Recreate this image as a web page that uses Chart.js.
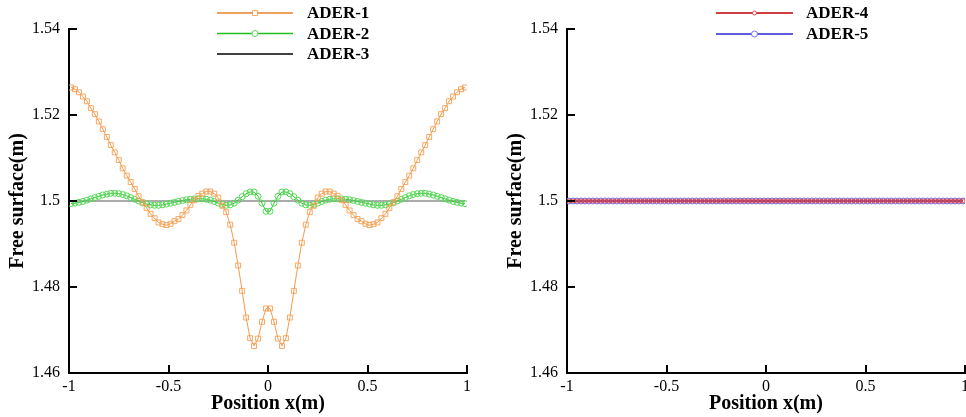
<!DOCTYPE html>
<html>
<head>
<meta charset="utf-8">
<script src="https://cdn.jsdelivr.net/npm/chart.js@4.4.0/dist/chart.umd.min.js"></script>
<style>
  html, body { margin: 0; padding: 0; background: #fff; overflow: hidden; }
  #wrap { position: relative; width: 966px; height: 417px; overflow: hidden; }
  .box { position: absolute; top: 0; height: 417px; }
  #left { left: 0; width: 483px; }
  #right { left: 483px; width: 490px; }
</style>
</head>
<body>
<div id="wrap">
  <div class="box" id="left"><canvas id="chartLeft" width="483" height="417"></canvas></div>
  <div class="box" id="right"><canvas id="chartRight" width="490" height="417"></canvas></div>
</div>
<script>
// cell centres, -0.99 .. 0.99
const positions = [
  -0.99, -0.97, -0.95, -0.93, -0.91, -0.89, -0.87, -0.85, -0.83, -0.81,
  -0.79, -0.77, -0.75, -0.73, -0.71, -0.69, -0.67, -0.65, -0.63, -0.61,
  -0.59, -0.57, -0.55, -0.53, -0.51, -0.49, -0.47, -0.45, -0.43, -0.41,
  -0.39, -0.37, -0.35, -0.33, -0.31, -0.29, -0.27, -0.25, -0.23, -0.21,
  -0.19, -0.17, -0.15, -0.13, -0.11, -0.09, -0.07, -0.05, -0.03, -0.01,
  0.01, 0.03, 0.05, 0.07, 0.09, 0.11, 0.13, 0.15, 0.17, 0.19,
  0.21, 0.23, 0.25, 0.27, 0.29, 0.31, 0.33, 0.35, 0.37, 0.39,
  0.41, 0.43, 0.45, 0.47, 0.49, 0.51, 0.53, 0.55, 0.57, 0.59,
  0.61, 0.63, 0.65, 0.67, 0.69, 0.71, 0.73, 0.75, 0.77, 0.79,
  0.81, 0.83, 0.85, 0.87, 0.89, 0.91, 0.93, 0.95, 0.97, 0.99
];

const ader1 = [
  1.5264, 1.5260, 1.5253, 1.5243, 1.5232, 1.5216, 1.5202, 1.5185, 1.5167, 1.5149,
  1.5130, 1.5113, 1.5095, 1.5076, 1.5059, 1.5044, 1.5028, 1.5011, 1.4997, 1.4984,
  1.4970, 1.4960, 1.4950, 1.4946, 1.4944, 1.4947, 1.4953, 1.4958, 1.4967, 1.4978,
  1.4991, 1.5002, 1.5012, 1.5017, 1.5022, 1.5022, 1.5017, 1.5008, 1.4989, 1.4974,
  1.4945, 1.4903, 1.4850, 1.4791, 1.4729, 1.4681, 1.4663, 1.4680, 1.4719, 1.4750,
  1.4750, 1.4719, 1.4680, 1.4663, 1.4681, 1.4729, 1.4791, 1.4850, 1.4903, 1.4945,
  1.4974, 1.4989, 1.5008, 1.5017, 1.5022, 1.5022, 1.5017, 1.5012, 1.5002, 1.4991,
  1.4978, 1.4967, 1.4958, 1.4953, 1.4947, 1.4944, 1.4946, 1.4950, 1.4960, 1.4970,
  1.4984, 1.4997, 1.5011, 1.5028, 1.5044, 1.5059, 1.5076, 1.5095, 1.5113, 1.5130,
  1.5149, 1.5167, 1.5185, 1.5202, 1.5216, 1.5232, 1.5243, 1.5253, 1.5260, 1.5264
];

const ader2 = [
  1.4994, 1.4995, 1.4997, 1.4999, 1.5002, 1.5005, 1.5008, 1.5011, 1.5014, 1.5016,
  1.5018, 1.5018, 1.5017, 1.5015, 1.5012, 1.5008, 1.5004, 1.5000, 1.4996, 1.4993,
  1.4991, 1.4990, 1.4990, 1.4991, 1.4993, 1.4995, 1.4997, 1.4999, 1.5001, 1.5003,
  1.5004, 1.5005, 1.5005, 1.5005, 1.5004, 1.5002, 1.4999, 1.4995, 1.4992, 1.4990,
  1.4991, 1.4995, 1.5002, 1.5010, 1.5017, 1.5021, 1.5021, 1.5011, 1.4995, 1.4976,
  1.4976, 1.4995, 1.5011, 1.5021, 1.5021, 1.5017, 1.5010, 1.5002, 1.4995, 1.4991,
  1.4990, 1.4992, 1.4995, 1.4999, 1.5002, 1.5004, 1.5005, 1.5005, 1.5005, 1.5004,
  1.5003, 1.5001, 1.4999, 1.4997, 1.4995, 1.4993, 1.4991, 1.4990, 1.4990, 1.4991,
  1.4993, 1.4996, 1.5000, 1.5004, 1.5008, 1.5012, 1.5015, 1.5017, 1.5018, 1.5018,
  1.5016, 1.5014, 1.5011, 1.5008, 1.5005, 1.5002, 1.4999, 1.4997, 1.4995, 1.4994
];

// flat reference solutions (still water)
const flat = [
  1.5, 1.5, 1.5, 1.5, 1.5, 1.5, 1.5, 1.5, 1.5, 1.5,
  1.5, 1.5, 1.5, 1.5, 1.5, 1.5, 1.5, 1.5, 1.5, 1.5,
  1.5, 1.5, 1.5, 1.5, 1.5, 1.5, 1.5, 1.5, 1.5, 1.5,
  1.5, 1.5, 1.5, 1.5, 1.5, 1.5, 1.5, 1.5, 1.5, 1.5,
  1.5, 1.5, 1.5, 1.5, 1.5, 1.5, 1.5, 1.5, 1.5, 1.5,
  1.5, 1.5, 1.5, 1.5, 1.5, 1.5, 1.5, 1.5, 1.5, 1.5,
  1.5, 1.5, 1.5, 1.5, 1.5, 1.5, 1.5, 1.5, 1.5, 1.5,
  1.5, 1.5, 1.5, 1.5, 1.5, 1.5, 1.5, 1.5, 1.5, 1.5,
  1.5, 1.5, 1.5, 1.5, 1.5, 1.5, 1.5, 1.5, 1.5, 1.5,
  1.5, 1.5, 1.5, 1.5, 1.5, 1.5, 1.5, 1.5, 1.5, 1.5
];
const ader3 = flat;
const ader4 = flat;
const ader5 = flat;

const xTicks = [-1, -0.5, 0, 0.5, 1];
const xTickLabels = ['-1', '-0.5', '0', '0.5', '1'];
const yTicks = [1.46, 1.48, 1.5, 1.52, 1.54];
const yTickLabels = ['1.46', '1.48', '1.5', '1.52', '1.54'];

const FONT = '"Liberation Serif", "Times New Roman", serif';

function toPoints(values) {
    return positions.map((x, i) => ({ x: x, y: values[i] }));
}

// ticks pointing into the plot, like the original figure
const inwardTicks = {
    id: 'inwardTicks',
    afterDraw(chart, args, opts) {
        const { ctx, chartArea } = chart;
        const len = opts.length || 8;
        ctx.save();
        ctx.strokeStyle = '#000';
        ctx.lineWidth = 2;
        chart.scales.x.ticks.forEach(t => {
            const px = Math.round(chart.scales.x.getPixelForValue(t.value));
            ctx.beginPath();
            ctx.moveTo(px, chartArea.bottom);
            ctx.lineTo(px, chartArea.bottom - len);
            ctx.stroke();
        });
        chart.scales.y.ticks.forEach(t => {
            const py = Math.round(chart.scales.y.getPixelForValue(t.value));
            ctx.beginPath();
            ctx.moveTo(chartArea.left, py);
            ctx.lineTo(chartArea.left + len, py);
            ctx.stroke();
        });
        ctx.restore();
    }
};

// legend: line sample with marker in the middle, bold label on the right
const lineLegend = {
    id: 'lineLegend',
    afterDraw(chart, args, opts) {
        const ctx = chart.ctx;
        ctx.save();
        chart.data.datasets.forEach((ds, i) => {
            const y = opts.top + i * opts.gap;
            ctx.strokeStyle = ds.legendColor || ds.borderColor;
            ctx.lineWidth = 1.5;
            ctx.beginPath();
            ctx.moveTo(opts.left, y);
            ctx.lineTo(opts.left + opts.width, y);
            ctx.stroke();
            if (ds.pointRadius > 0) {
                ctx.strokeStyle = ds.pointBorderColor;
                ctx.fillStyle = '#fff';
                ctx.lineWidth = 1;
                Chart.helpers.drawPoint(ctx, {
                    pointStyle: ds.pointStyle,
                    radius: ds.pointRadius,
                    borderWidth: 1,
                    rotation: 0
                }, opts.left + opts.width / 2, y);
            }
            ctx.fillStyle = '#000';
            ctx.font = 'bold 17px ' + FONT;
            ctx.textBaseline = 'middle';
            ctx.textAlign = 'left';
            ctx.fillText(ds.label, opts.textX, y + 1);
        });
        ctx.restore();
    }
};

function makeScales() {
    return {
        x: {
            type: 'linear',
            min: -1,
            max: 1,
            afterBuildTicks: s => { s.ticks = xTicks.map(v => ({ value: v })); },
            afterFit: s => { s.height = 44; },
            grid: { display: false, drawTicks: false },
            border: { display: true, color: '#000', width: 2 },
            ticks: {
                padding: 4,
                color: '#000',
                maxRotation: 0,
                autoSkip: false,
                font: { family: FONT, size: 16 },
                callback: v => xTickLabels[xTicks.indexOf(v)]
            },
            title: {
                display: true,
                text: 'Position x(m)',
                color: '#000',
                font: { family: FONT, size: 20, weight: 'bold' },
                padding: { top: 0, bottom: 1 }
            }
        },
        y: {
            type: 'linear',
            min: 1.46,
            max: 1.54,
            afterBuildTicks: s => { s.ticks = yTicks.map(v => ({ value: v })); },
            afterFit: s => { s.width = 69; },
            grid: { display: false, drawTicks: false },
            border: { display: true, color: '#000', width: 2 },
            ticks: {
                padding: 9,
                color: '#000',
                autoSkip: false,
                font: { family: FONT, size: 16 },
                callback: v => yTickLabels[yTicks.indexOf(v)]
            },
            title: {
                display: true,
                text: 'Free surface(m)',
                color: '#000',
                font: { family: FONT, size: 20, weight: 'bold' },
                padding: { top: 6, bottom: 0 }
            }
        }
    };
}

function makeOptions(padding, legendOpts) {
    return {
        responsive: false,
        animation: false,
        layout: { padding: padding },
        scales: makeScales(),
        plugins: {
            legend: { display: false },
            tooltip: { enabled: false },
            inwardTicks: { length: 8 },
            lineLegend: legendOpts
        }
    };
}

new Chart(document.getElementById('chartLeft'), {
    type: 'line',
    data: {
        datasets: [
            {
                label: 'ADER-1',
                data: toPoints(ader1),
                borderColor: '#f49a4c',
                legendColor: '#e8822a',
                borderWidth: 1,
                pointStyle: 'rect',
                pointRadius: 3.5,
                pointBorderColor: 'rgba(246,160,84,0.9)',
                pointBackgroundColor: 'rgba(0,0,0,0)',
                pointBorderWidth: 1,
                tension: 0
            },
            {
                label: 'ADER-2',
                data: toPoints(ader2),
                borderColor: '#2cc02c',
                legendColor: '#1fbf1f',
                borderWidth: 1,
                pointStyle: 'circle',
                pointRadius: 3,
                pointBorderColor: '#55d855',
                pointBackgroundColor: 'rgba(0,0,0,0)',
                pointBorderWidth: 1,
                tension: 0
            },
            {
                label: 'ADER-3',
                data: toPoints(ader3),
                borderColor: '#555',
                legendColor: '#000',
                borderWidth: 1,
                pointRadius: 0,
                tension: 0
            }
        ]
    },
    options: makeOptions({ left: 0, top: 29, right: 16, bottom: 0 },
        { left: 217, width: 76, top: 13, gap: 20.5, textX: 307 }),
    plugins: [inwardTicks, lineLegend]
});

new Chart(document.getElementById('chartRight'), {
    type: 'line',
    data: {
        datasets: [
            {
                label: 'ADER-4',
                data: toPoints(ader4),
                borderColor: '#c00000',
                borderWidth: 1,
                pointStyle: 'circle',
                pointRadius: 2,
                pointBorderColor: '#e04848',
                pointBackgroundColor: 'rgba(0,0,0,0)',
                pointBorderWidth: 1,
                tension: 0
            },
            {
                label: 'ADER-5',
                data: toPoints(ader5),
                borderColor: '#2828d0',
                borderWidth: 1,
                pointStyle: 'circle',
                pointRadius: 3,
                pointBorderColor: '#7474f0',
                pointBackgroundColor: 'rgba(0,0,0,0)',
                pointBorderWidth: 1,
                tension: 0
            }
        ]
    },
    options: makeOptions({ left: 15, top: 29, right: 8, bottom: 0 },
        { left: 233, width: 77, top: 13, gap: 21, textX: 323 }),
    plugins: [inwardTicks, lineLegend]
});
</script>
</body>
</html>
